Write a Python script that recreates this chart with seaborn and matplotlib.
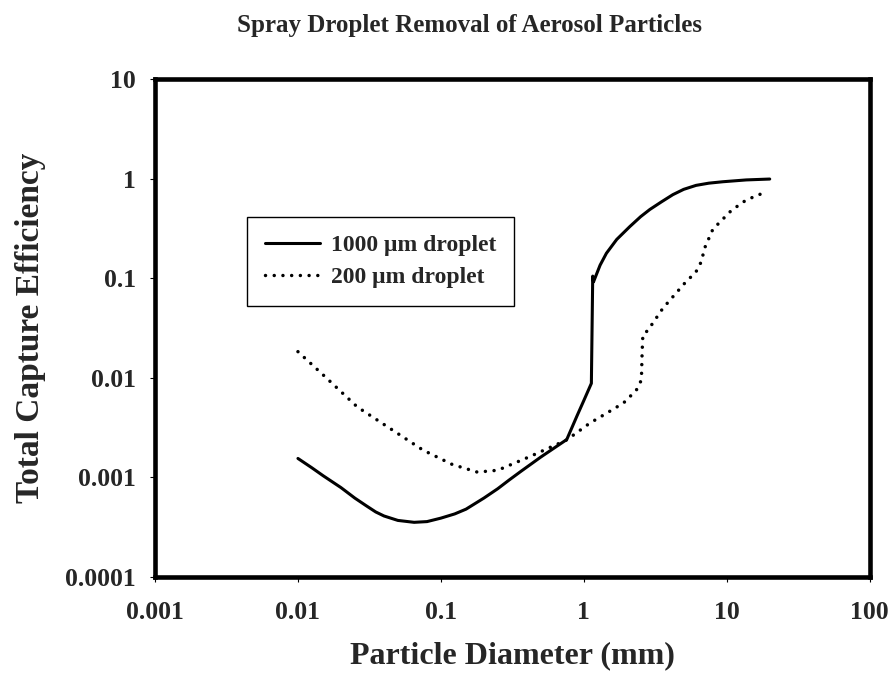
import matplotlib
matplotlib.use("Agg")
import matplotlib.pyplot as plt
import matplotlib.ticker as mticker
import seaborn as sns

# Data (log-log curves)
diam_1000 = [0.01, 0.0125, 0.015, 0.02, 0.025, 0.03, 0.035, 0.04, 0.05, 0.065, 0.08,
             0.1, 0.125, 0.15, 0.2, 0.25, 0.3, 0.36, 0.5, 0.76, 0.9, 1.0, 1.13, 1.155,
             1.17, 1.3, 1.44, 1.7, 2.1, 2.5, 2.9, 3.5, 4.2, 5.0, 6.1, 7.5, 9.4, 13.7, 20]
eff_1000 = [0.00155, 0.00125, 0.00104, 0.00079, 0.00062, 0.00052, 0.00045, 0.00041,
            0.00037, 0.000354, 0.00036, 0.00039, 0.00043, 0.00048, 0.00062, 0.00077,
            0.00094, 0.00114, 0.0016, 0.0024, 0.0042, 0.0059, 0.0088, 0.105, 0.092,
            0.135, 0.178, 0.245, 0.33, 0.415, 0.49, 0.585, 0.69, 0.78, 0.855, 0.90,
            0.93, 0.97, 0.99]

diam_200 = [0.01, 0.015, 0.026, 0.04, 0.075, 0.12, 0.18, 0.25, 0.42, 0.76, 1.1, 1.44,
            1.9, 2.33, 2.53, 2.56, 2.59, 2.81, 3.58, 5.08, 6.1, 6.65, 7.0, 8.0, 10.8,
            13.7, 19]
eff_200 = [0.0183, 0.0107, 0.0051, 0.0034, 0.00188, 0.00135, 0.00113, 0.00118, 0.00162,
           0.00238, 0.0035, 0.0044, 0.0056, 0.0075, 0.0095, 0.018, 0.0269, 0.030, 0.050,
           0.089, 0.116, 0.147, 0.2, 0.31, 0.48, 0.61, 0.74]

x_ticks = [0.001, 0.01, 0.1, 1, 10, 100]
x_tick_labels = ["0.001", "0.01", "0.1", "1", "10", "100"]
y_ticks = [0.0001, 0.001, 0.01, 0.1, 1, 10]
y_tick_labels = ["0.0001", "0.001", "0.01", "0.1", "1", "10"]

sns.set_style("ticks")
plt.rcParams["font.family"] = ["Liberation Serif", "DejaVu Serif"]
plt.rcParams["font.weight"] = "bold"

fig = plt.figure(figsize=(8.91, 6.77), dpi=100)
ax = fig.add_axes([0.174, 0.1477, 0.802, 0.7356])

sns.lineplot(x=diam_1000, y=eff_1000, ax=ax, color="black", linewidth=2.2,
             sort=False, estimator=None, label="1000 \u03bcm droplet")
sns.lineplot(x=diam_200, y=eff_200, ax=ax, color="black", linewidth=2.5,
             linestyle=(0, (0.01, 2.5)), dash_capstyle="round",
             sort=False, estimator=None, label="200 \u03bcm droplet")

ax.set_xscale("log")
ax.set_yscale("log")
ax.set_xlim(0.001, 100)
ax.set_ylim(0.0001, 10)
ax.xaxis.set_major_locator(mticker.FixedLocator(x_ticks))
ax.yaxis.set_major_locator(mticker.FixedLocator(y_ticks))
ax.xaxis.set_minor_locator(mticker.NullLocator())
ax.yaxis.set_minor_locator(mticker.NullLocator())
ax.set_xticklabels(x_tick_labels, fontsize=18.5, fontweight="bold")
ax.set_yticklabels(y_tick_labels, fontsize=18.5, fontweight="bold")
ax.tick_params(axis="both", direction="out", length=3.6, width=0.8, color="black")
ax.tick_params(axis="x", pad=14)
ax.tick_params(axis="y", pad=10)

for side in ["left", "right", "top", "bottom"]:
    ax.spines[side].set_visible(True)
    ax.spines[side].set_linewidth(3.3)
    ax.spines[side].set_color("black")

ax.set_xlabel("Particle Diameter (mm)", fontsize=23, fontweight="bold", labelpad=12)
ax.set_ylabel("Total Capture Efficiency", fontsize=24, fontweight="bold", labelpad=14)

fig.suptitle("Spray Droplet Removal of Aerosol Particles", x=0.527, y=0.962,
             va="center", fontsize=18, fontweight="bold")

leg = ax.legend(loc="upper left", bbox_to_anchor=(0.129, 0.723), borderaxespad=0,
                fancybox=False, frameon=True, edgecolor="black", framealpha=1,
                handlelength=2.35, handletextpad=0.45, borderpad=0.75, labelspacing=0.45,
                prop={"weight": "bold", "size": 17})
leg.get_frame().set_linewidth(1.0)

fig.savefig("out.png", dpi=100)
